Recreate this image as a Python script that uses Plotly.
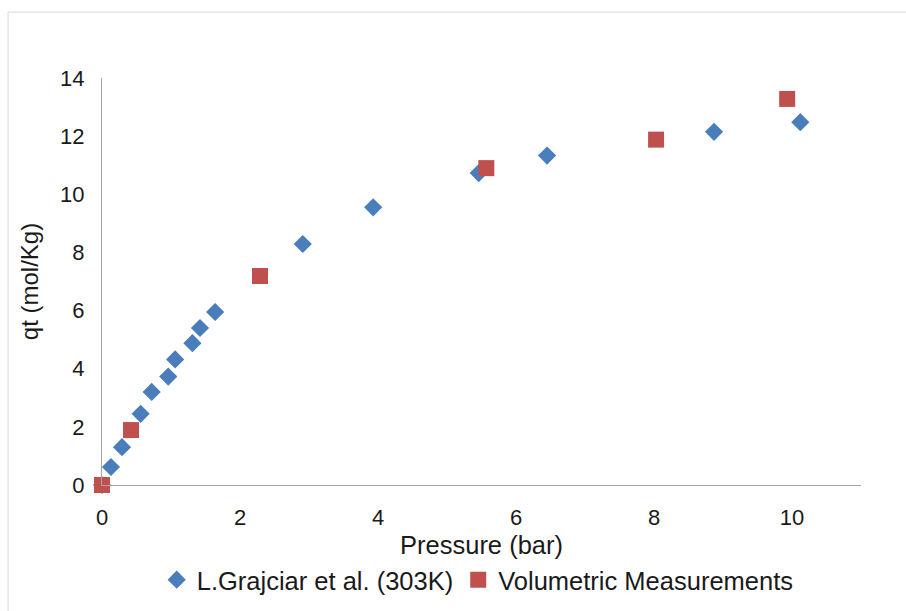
import plotly.graph_objects as go

# Data
graj_p = [0.0, 0.13, 0.29, 0.56, 0.72, 0.96, 1.06, 1.31, 1.42, 1.64, 2.91, 3.93, 5.46, 6.45, 8.87, 10.12]
graj_q = [0.0, 0.62, 1.30, 2.45, 3.20, 3.73, 4.32, 4.88, 5.40, 5.95, 8.29, 9.55, 10.73, 11.33, 12.15, 12.48]
vol_p = [0.0, 0.42, 2.29, 5.57, 8.03, 9.93]
vol_q = [0.0, 1.89, 7.19, 10.90, 11.88, 13.28]

x_ticks = [0, 2, 4, 6, 8, 10]
y_ticks = [0, 2, 4, 6, 8, 10, 12, 14]

font = "Arial, Liberation Sans, sans-serif"
txt = "#1a1a1a"

fig = go.Figure()
fig.add_trace(go.Scatter(
    x=graj_p, y=graj_q, mode="markers", name="L.Grajciar et al. (303K)",
    marker=dict(symbol="diamond", size=14, color="#4a7ebb", line=dict(width=0)),
    cliponaxis=False,
))
fig.add_trace(go.Scatter(
    x=vol_p, y=vol_q, mode="markers", name="Volumetric Measurements",
    marker=dict(symbol="square", size=16, color="#c0504d", line=dict(width=0)),
    cliponaxis=False,
))

fig.update_layout(
    width=906, height=611,
    margin=dict(l=102, r=45, t=78, b=126, autoexpand=False),
    paper_bgcolor="white", plot_bgcolor="white",
    font=dict(family=font, size=22, color=txt),
    showlegend=True,
    legend=dict(orientation="h", x=0.495, xanchor="center", y=-0.176, yanchor="top",
                font=dict(size=25.5, color=txt), itemwidth=30, tracegroupgap=0,
                bgcolor="rgba(0,0,0,0)"),
    xaxis=dict(range=[0, 11], tickvals=x_ticks, showgrid=False, zeroline=False,
               showline=True, linecolor="#a6a6a6", linewidth=1, ticks="",
               ticklabelstandoff=13, tickfont=dict(size=22), automargin=False,
               title=dict(text="Pressure (bar)", standoff=6, font=dict(size=25.5))),
    yaxis=dict(range=[0, 14], tickvals=y_ticks, showgrid=False, zeroline=False,
               showline=True, linecolor="#a6a6a6", linewidth=1, ticks="",
               ticklabelstandoff=12, tickfont=dict(size=22), automargin=False,
               title=dict(text="qt (mol/Kg)", standoff=14, font=dict(size=24))),
    shapes=[dict(type="rect", xref="paper", yref="paper",
                 x0=-0.1238, x1=1.2, y0=-0.5, y1=1.162,
                 line=dict(color="#d9d9d9", width=1), fillcolor="rgba(0,0,0,0)",
                 layer="below")],
)

fig.write_html("out.html")
